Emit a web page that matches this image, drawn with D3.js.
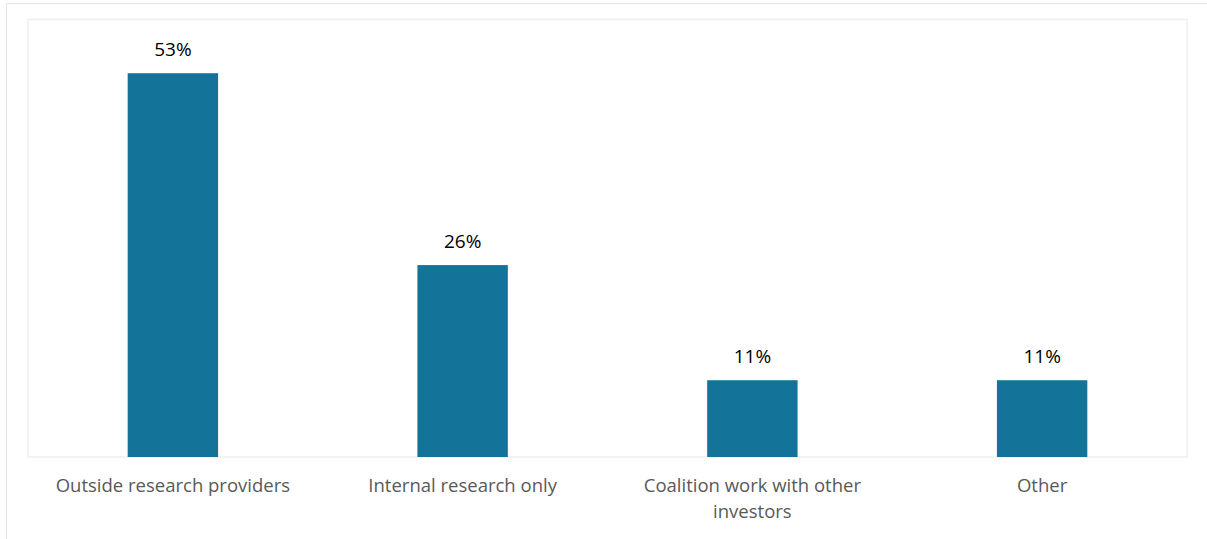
<!DOCTYPE html>
<html>
<head>
<meta charset="utf-8">
<script src="https://cdn.jsdelivr.net/npm/d3@7"></script>
<style>
  html, body { margin: 0; padding: 0; background: #fff; }
  svg { display: block; }
</style>
</head>
<body>
<script>
// chart data
var categories = ['Outside research providers', 'Internal research only', 'Coalition work with other investors', 'Other'];
var shares = [52.63, 26.32, 10.53, 10.53];
var yDomain = [0, 60];

var w = 1207, h = 539;
var BAR_COLOR = '#137399';
var FONT = "'Open Sans', sans-serif";

var plot = { left: 28, top: 19.5, right: 1187, bottom: 457 };

var svg = d3.select('body').append('svg')
  .attr('width', w)
  .attr('height', h);

// outer chart border (only top + left visible in crop)
svg.append('line')
  .attr('x1', 6.5).attr('y1', 3.5).attr('x2', w).attr('y2', 3.5)
  .attr('stroke', '#e4e4e4').attr('stroke-width', 1);
svg.append('line')
  .attr('x1', 6.5).attr('y1', 3.5).attr('x2', 6.5).attr('y2', h)
  .attr('stroke', '#e4e4e4').attr('stroke-width', 1);

var x = d3.scaleBand()
  .domain(categories)
  .range([plot.left, plot.right])
  .paddingInner(0.688)
  .paddingOuter(0.344);

var y = d3.scaleLinear()
  .domain(yDomain)
  .range([plot.bottom, plot.top]);

// plot area frame
svg.append('rect')
  .attr('x', plot.left)
  .attr('y', plot.top)
  .attr('width', plot.right - plot.left)
  .attr('height', plot.bottom - plot.top)
  .attr('fill', 'none')
  .attr('stroke', '#efefef')
  .attr('stroke-width', 1.5);

var data = categories.map(function(c, i) { return { name: c, value: shares[i] }; });

svg.append('g').selectAll('rect.bar')
    .data(data)
  .enter().append('rect')
    .attr('class', 'bar')
    .attr('x', function(d) { return x(d.name); })
    .attr('y', function(d) { return y(d.value); })
    .attr('width', x.bandwidth())
    .attr('height', function(d) { return y(0) - y(d.value); })
    .attr('fill', BAR_COLOR);

// value labels
svg.append('g').selectAll('text.value')
    .data(data)
  .enter().append('text')
    .attr('class', 'value')
    .attr('x', function(d) { return x(d.name) + x.bandwidth() / 2; })
    .attr('y', function(d) { return y(d.value) - 17; })
    .attr('text-anchor', 'middle')
    .style('font-family', FONT)
    .style('font-size', '19px')
    .style('fill', '#000')
    .text(function(d) { return d3.format('.0f')(d.value) + '%'; });

// category labels (axis without line/ticks)
var xAxis = svg.append('g')
  .attr('transform', 'translate(0,' + plot.bottom + ')')
  .call(d3.axisBottom(x).tickSize(0).tickPadding(0).tickFormat(''));
xAxis.select('.domain').remove();

xAxis.selectAll('.tick').each(function(d) {
  var t = d3.select(this).append('text')
    .attr('text-anchor', 'middle')
    .attr('y', 35)
    .style('font-family', FONT)
    .style('font-size', '18.5px')
    .style('fill', '#595959');
  var lines = d === 'Coalition work with other investors'
    ? ['Coalition work with other', 'investors'] : [d];
  lines.forEach(function(s, i) {
    t.append('tspan').attr('x', 0).attr('dy', i ? 26 : 0).text(s);
  });
});
</script>
</body>
</html>
